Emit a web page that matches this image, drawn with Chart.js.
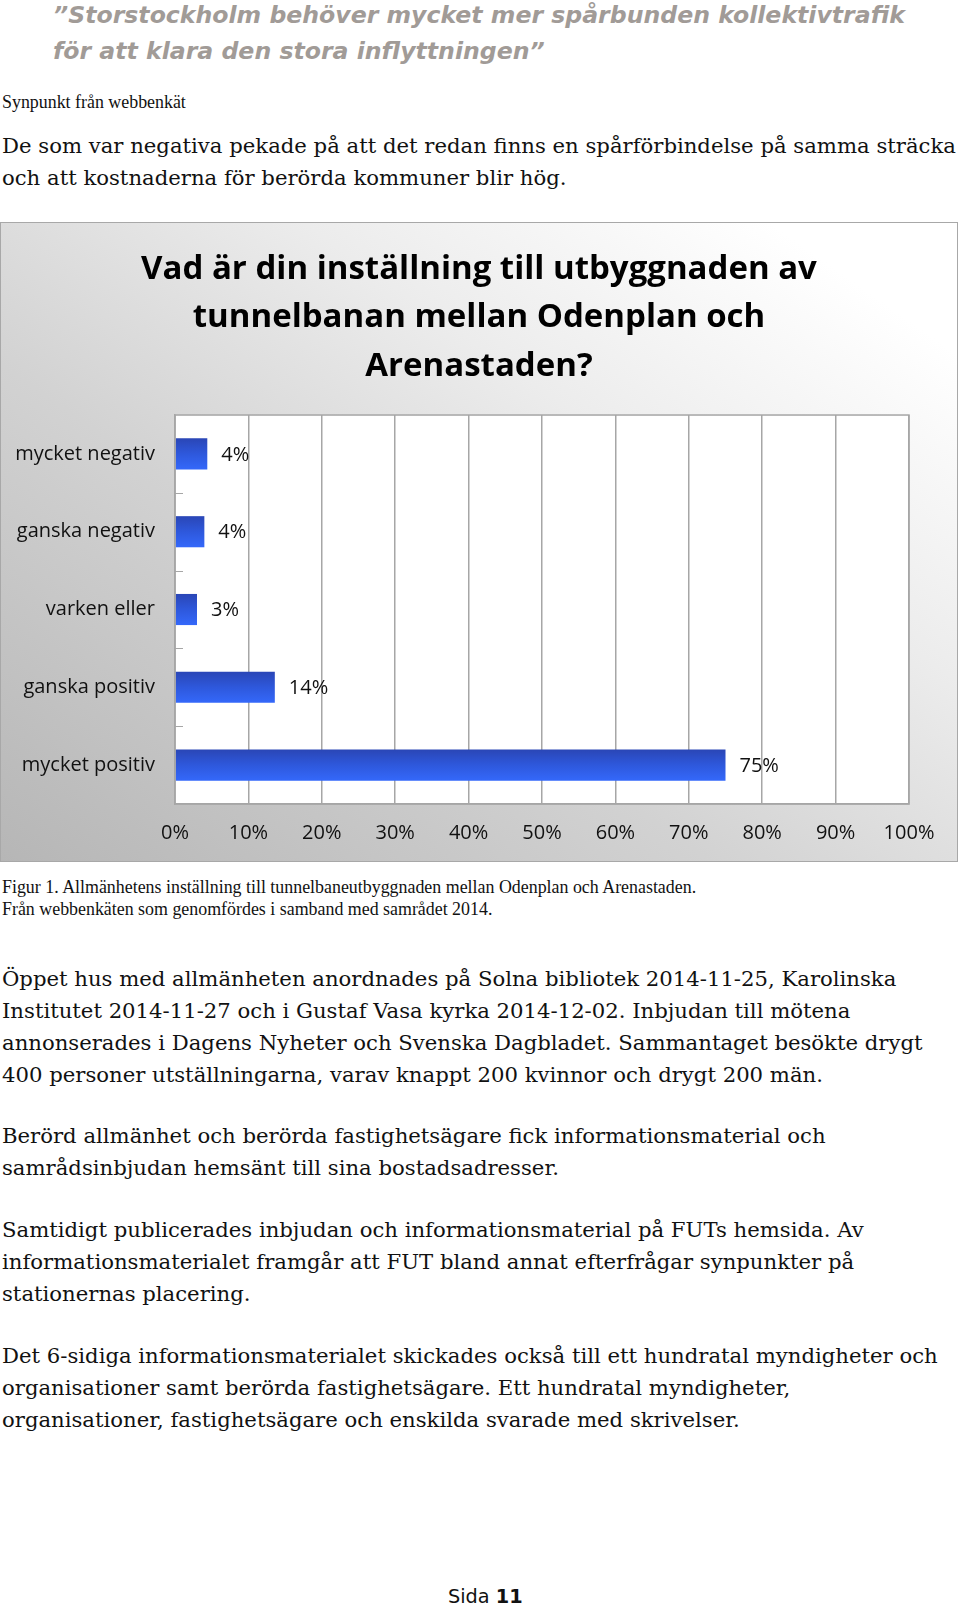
<!DOCTYPE html>
<html lang="sv">
<head>
<meta charset="utf-8">
<title>Sida 11</title>
<script src="https://cdn.jsdelivr.net/npm/chart.js@4.4.1/dist/chart.umd.min.js"></script>
<style>
  html, body { margin: 0; padding: 0; background: #fff; }
  body { width: 960px; height: 1606px; position: relative; overflow: hidden; }
  .rad { position: absolute; left: 2px; height: 30px; line-height: 30px; white-space: nowrap; color: #111; }
  .rubrik { left: 53px; font-family: "DejaVu Sans", sans-serif; font-weight: bold; font-style: italic; font-size: 23.6px; color: #a19b97; }
  .brod { font-family: "DejaVu Serif", serif; font-size: 21.2px; }
  .liten { font-family: "Liberation Serif", serif; font-size: 17.9px; }
  .sida { left: 448px; font-family: "DejaVu Sans", sans-serif; font-size: 19.3px; }
  #ruta {
    position: absolute; left: 0; top: 222px; width: 958px; height: 640px; box-sizing: border-box;
    border: 1px solid #a8a8a8;
    background: linear-gradient(35deg, #b6b6b6 0%, #d2d2d2 38%, #ececec 65%, #ffffff 90%);
  }
  #grafik { position: absolute; left: 0; top: 0; }
</style>
</head>
<body>

<div class="rad rubrik" style="top:0px">”Storstockholm behöver mycket mer spårbunden kollektivtrafik</div>
<div class="rad rubrik" style="top:36px">för att klara den stora inflyttningen”</div>

<div class="rad liten" style="top:87px">Synpunkt från webbenkät</div>

<div class="rad brod" style="top:131px">De som var negativa pekade på att det redan finns en spårförbindelse på samma sträcka</div>
<div class="rad brod" style="top:163px">och att kostnaderna för berörda kommuner blir hög.</div>

<div id="ruta">
  <canvas id="grafik" width="956" height="638"></canvas>
</div>

<div class="rad liten" style="top:872px">Figur 1. Allmänhetens inställning till tunnelbaneutbyggnaden mellan Odenplan och Arenastaden.</div>
<div class="rad liten" style="top:894px">Från webbenkäten som genomfördes i samband med samrådet 2014.</div>

<div class="rad brod" style="top:964px">Öppet hus med allmänheten anordnades på Solna bibliotek 2014-11-25, Karolinska</div>
<div class="rad brod" style="top:996px">Institutet 2014-11-27 och i Gustaf Vasa kyrka 2014-12-02. Inbjudan till mötena</div>
<div class="rad brod" style="top:1028px">annonserades i Dagens Nyheter och Svenska Dagbladet. Sammantaget besökte drygt</div>
<div class="rad brod" style="top:1060px">400 personer utställningarna, varav knappt 200 kvinnor och drygt 200 män.</div>

<div class="rad brod" style="top:1121px">Berörd allmänhet och berörda fastighetsägare fick informationsmaterial och</div>
<div class="rad brod" style="top:1153px">samrådsinbjudan hemsänt till sina bostadsadresser.</div>

<div class="rad brod" style="top:1215px">Samtidigt publicerades inbjudan och informationsmaterial på FUTs hemsida. Av</div>
<div class="rad brod" style="top:1247px">informationsmaterialet framgår att FUT bland annat efterfrågar synpunkter på</div>
<div class="rad brod" style="top:1279px">stationernas placering.</div>

<div class="rad brod" style="top:1341px">Det 6-sidiga informationsmaterialet skickades också till ett hundratal myndigheter och</div>
<div class="rad brod" style="top:1373px">organisationer samt berörda fastighetsägare. Ett hundratal myndigheter,</div>
<div class="rad brod" style="top:1405px">organisationer, fastighetsägare och enskilda svarade med skrivelser.</div>

<div class="rad sida" style="top:1582px">Sida <b>11</b></div>

<script>
const kategorier = ['mycket negativ', 'ganska negativ', 'varken eller', 'ganska positiv', 'mycket positiv'];
const andelar = [4.4, 4.0, 3.0, 13.6, 75.0];
const xTicks = [0, 10, 20, 30, 40, 50, 60, 70, 80, 90, 100];
const titelRader = ['Vad är din inställning till utbyggnaden av', 'tunnelbanan mellan Odenplan och', 'Arenastaden?'];

const gra = '#a6a6a6';
const typsnitt = '"Open Sans", "Noto Sans", sans-serif';

// vit bakgrund i diagramytan
const vitYta = {
  id: 'vitYta',
  beforeDraw(chart) {
    const { ctx, chartArea: a } = chart;
    ctx.save();
    ctx.fillStyle = '#ffffff';
    ctx.fillRect(a.left, a.top, a.right - a.left, a.bottom - a.top);
    ctx.restore();
  }
};

// ram runt diagramytan + små streck mellan kategorierna
const ram = {
  id: 'ram',
  afterDatasetsDraw(chart) {
    const { ctx, chartArea: a, scales } = chart;
    ctx.save();
    ctx.strokeStyle = gra;
    ctx.lineWidth = 1.5;
    ctx.strokeRect(a.left, a.top, a.right - a.left, a.bottom - a.top);
    ctx.lineWidth = 1;
    for (let i = 1; i < kategorier.length; i++) {
      const y = Math.round((scales.y.getPixelForValue(i - 1) + scales.y.getPixelForValue(i)) / 2) + 0.5;
      ctx.beginPath();
      ctx.moveTo(a.left, y);
      ctx.lineTo(a.left + 8, y);
      ctx.stroke();
    }
    ctx.restore();
  }
};

// procentetiketter till höger om staplarna
const etiketter = {
  id: 'etiketter',
  afterDatasetsDraw(chart) {
    const { ctx } = chart;
    const meta = chart.getDatasetMeta(0);
    ctx.save();
    ctx.font = '20px ' + typsnitt;
    ctx.fillStyle = '#111';
    ctx.textAlign = 'left';
    ctx.textBaseline = 'middle';
    meta.data.forEach((el, i) => {
      ctx.fillText(Math.round(andelar[i]) + '%', el.x + 14, el.y + 1);
    });
    ctx.restore();
  }
};

function stapelFarg(c) {
  const chart = c.chart;
  const ys = chart.scales.y;
  if (!ys || !chart.chartArea) return '#2f55d8';
  const mitt = ys.getPixelForValue(c.dataIndex);
  const halv = (ys.height / kategorier.length) * 0.4 / 2;
  const g = chart.ctx.createLinearGradient(0, mitt - halv, 0, mitt + halv);
  g.addColorStop(0, '#2a46b6');
  g.addColorStop(0.5, '#2e58dc');
  g.addColorStop(1, '#3468fa');
  return g;
}

new Chart(document.getElementById('grafik'), {
  type: 'bar',
  data: {
    labels: kategorier,
    datasets: [{
      data: andelar,
      backgroundColor: stapelFarg,
      borderWidth: 0,
      categoryPercentage: 1,
      barPercentage: 0.4
    }]
  },
  options: {
    indexAxis: 'y',
    responsive: false,
    animation: false,
    devicePixelRatio: 1,
    layout: { padding: 0 },
    plugins: {
      legend: { display: false },
      tooltip: { enabled: false },
      title: {
        display: true,
        text: titelRader,
        color: '#000',
        font: { family: typsnitt, size: 33, weight: 'bold', lineHeight: 1.47 },
        padding: { top: 22, bottom: 24.5 }
      }
    },
    scales: {
      x: {
        min: 0,
        max: 100,
        afterBuildTicks(scale) { scale.ticks = xTicks.map(v => ({ value: v })); },
        afterFit(scale) { scale.height = 57; },
        grid: { color: gra, lineWidth: 1.5, drawTicks: false },
        border: { display: true, color: gra, width: 1.5 },
        ticks: {
          color: '#111',
          padding: 17,
          font: { family: typsnitt, size: 20 },
          callback: v => v + '%'
        }
      },
      y: {
        afterFit(scale) { scale.width = 174; },
        grid: { display: false, drawTicks: false },
        border: { display: true, color: gra, width: 1.5 },
        ticks: {
          color: '#111',
          padding: 20,
          font: { family: typsnitt, size: 20 }
        }
      },
      // tom axel till höger, ger marginalen utan att flytta titelns mitt
      hoger: {
        position: 'right',
        axis: 'y',
        type: 'category',
        afterFit(scale) { scale.width = 48; },
        grid: { display: false, drawTicks: false },
        border: { display: false },
        ticks: { display: false }
      }
    }
  },
  plugins: [vitYta, ram, etiketter]
});
</script>
</body>
</html>
